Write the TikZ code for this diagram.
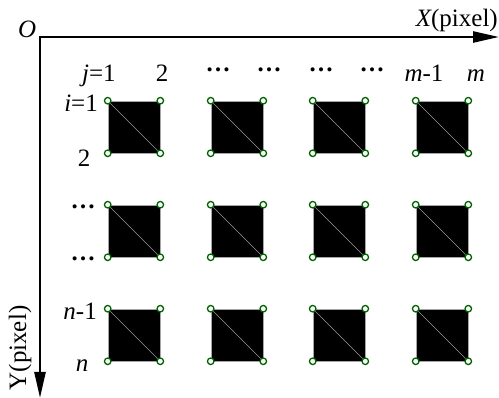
\documentclass[tikz,border=0pt]{standalone}
\usepackage{fontspec}
\setmainfont{Liberation Serif}
\newfontfamily\figserif{Liberation Serif}
\usetikzlibrary{arrows.meta}
\definecolor{dkgreen}{RGB}{0,100,0}
\tikzset{
  lbl/.style={inner sep=0pt, font=\figserif\fontsize{25}{28}\selectfont},
  axis/.style={line width=2.5pt},
  cell/.style={rectangle, minimum size=52pt, inner sep=0pt, fill=black, draw=gray!70, line width=0.6pt},
  diag/.style={draw=gray!80, line width=0.6pt},
  corner/.style={circle, minimum size=6.5pt, inner sep=0pt, draw=dkgreen, fill=white, line width=1.3pt},
  dot/.style={circle, fill=black, inner sep=0pt, minimum size=3.6pt}
}
\begin{document}
\begin{tikzpicture}[x=1pt,y=-1pt]
\useasboundingbox (0,0) rectangle (499,398);
% axes
\coordinate (O) at (40,37);
\coordinate (xend) at (499,37);
\coordinate (yend) at (40,398);
\draw[axis,{Triangle[length=26pt,width=11pt]}-{Triangle[length=26pt,width=11pt]}] (xend) -- (O) -- (yend);
\node[lbl, anchor=base west] (lo) at (18,38) {\itshape O};
\node[lbl, anchor=base east] (lx) at (498,27) {\itshape X\upshape(pixel)};
\node[lbl, rotate=90, anchor=center] (ly) at (20,348) {Y(pixel)};
% cells
\foreach \r/\y in {1/127,2/231,3/335}{
  \foreach \c/\x in {1/134,2/237,3/339,4/442}{
    \node[cell] (s-\r-\c) at (\x,\y) {};
    \draw[diag] (s-\r-\c.north west) -- (s-\r-\c.south east);
    \node[corner] (nw-\r-\c) at (s-\r-\c.north west) {};
    \node[corner] (ne-\r-\c) at (s-\r-\c.north east) {};
    \node[corner] (sw-\r-\c) at (s-\r-\c.south west) {};
    \node[corner] (se-\r-\c) at (s-\r-\c.south east) {};
  }
}
% column labels
\node[lbl, anchor=base west] (cj1) at (82,82) {\itshape j\upshape=1};
\node[lbl, anchor=base] (cj2) at (162,82) {2};
\node[lbl, anchor=base] (cd1) at (218,72) {\textbf{…}};
\node[lbl, anchor=base] (cd2) at (269,72) {\textbf{…}};
\node[lbl, anchor=base] (cd3) at (321,72) {\textbf{…}};
\node[lbl, anchor=base] (cd4) at (372,72) {\textbf{…}};
\node[lbl, anchor=base] (cm1) at (424,82) {\itshape m\upshape-1};
\node[lbl, anchor=base] (cm) at (476,82) {\itshape m};
% row labels
\node[lbl, anchor=base east] (ri1) at (98,112) {\itshape i\upshape=1};
\node[lbl, anchor=base] (ri2) at (84,167) {2};
\node[lbl, anchor=base] (rd1) at (83,209) {\textbf{…}};
\node[lbl, anchor=base] (rd2) at (83,261) {\textbf{…}};
\node[lbl, anchor=base east] (rn1) at (97,320) {\itshape n\upshape-1};
\node[lbl, anchor=base] (rn) at (82,372) {\itshape n};
\end{tikzpicture}
\end{document}
